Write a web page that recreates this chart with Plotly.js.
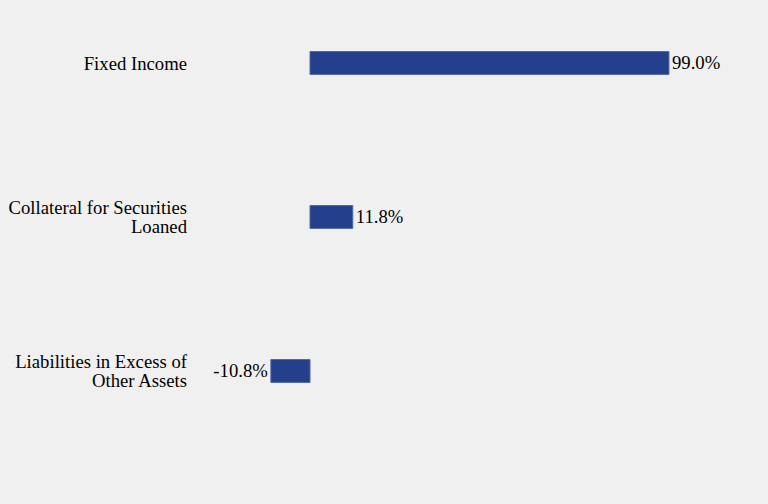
<!DOCTYPE html>
<html>
<head>
<meta charset="utf-8">
<script src="https://cdn.plot.ly/plotly-3.0.1.min.js"></script>
<style>
  html, body { margin: 0; padding: 0; background: #f0f0f0; }
  #chart { width: 768px; height: 504px; }
</style>
</head>
<body>
<div id="chart"></div>
<script>
// Portfolio allocation by asset type, percent of net assets
const categories = [
  "Fixed Income",
  "Collateral for Securities<br>Loaned",
  "Liabilities in Excess of<br>Other Assets"
];
const allocation = [99.0, 11.8, -10.8];

const serif = "Liberation Serif, Times New Roman, Times, serif";
const fontSize = 18.7;
const lineSpacing = 1.05; // tighter than Plotly's default 1.3em for wrapped labels

const trace = {
  type: "bar",
  orientation: "h",
  y: categories,
  x: allocation,
  width: 0.149,
  marker: { color: "#243f8b", line: { color: "#5369a6", width: 1 } },
  text: allocation.map(v => v.toFixed(1) + "%"),
  textposition: "outside",
  textfont: { family: serif, size: fontSize, color: "#000000" },
  cliponaxis: false,
  hoverinfo: "skip"
};

const layout = {
  width: 768,
  height: 504,
  paper_bgcolor: "#f0f0f0",
  plot_bgcolor: "#f0f0f0",
  margin: { l: 188, r: 40, t: 10, b: 10 },
  showlegend: false,
  font: { family: serif, size: fontSize, color: "#000000" },
  xaxis: {
    range: [-33.65, 115.28],
    showgrid: false,
    zeroline: false,
    showline: false,
    showticklabels: false,
    fixedrange: true
  },
  yaxis: {
    type: "category",
    range: [2.799, -0.344],
    showgrid: false,
    zeroline: false,
    showline: false,
    ticks: "",
    automargin: false,
    tickfont: { family: serif, size: fontSize, color: "#000000" },
    fixedrange: true
  }
};

Plotly.newPlot("chart", [trace], layout, { displayModeBar: false, staticPlot: true }).then(gd => {
  // Tighten the line spacing of wrapped category labels and keep them centred
  gd.querySelectorAll(".ytick text").forEach(t => {
    const lines = t.querySelectorAll("tspan.line");
    if (lines.length < 2) return;
    lines.forEach((ln, i) => { if (i > 0) ln.setAttribute("dy", lineSpacing + "em"); });
    const shift = (1.3 - lineSpacing) * fontSize * (lines.length - 1) / 2;
    const old = t.getAttribute("transform") || "";
    t.setAttribute("transform", old + " translate(0," + shift.toFixed(2) + ")");
  });
});
</script>
</body>
</html>
